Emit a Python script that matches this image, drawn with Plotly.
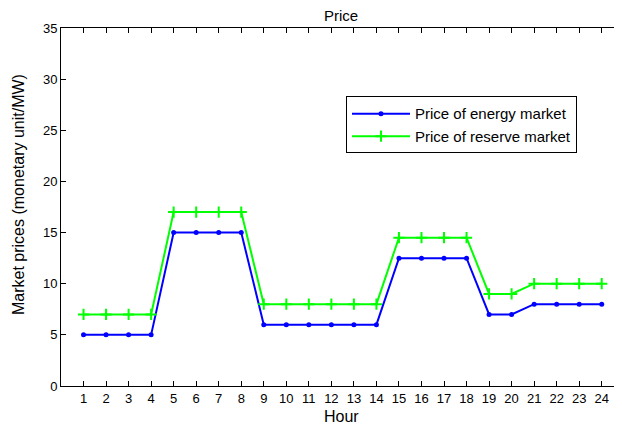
import plotly.graph_objects as go

hours = list(range(1, 25))
energy_price = [5, 5, 5, 5, 15, 15, 15, 15, 6, 6, 6, 6, 6, 6,
                12.5, 12.5, 12.5, 12.5, 7, 7, 8, 8, 8, 8]
reserve_price = [7, 7, 7, 7, 17, 17, 17, 17, 8, 8, 8, 8, 8, 8,
                 14.5, 14.5, 14.5, 14.5, 9, 9, 10, 10, 10, 10]
y_ticks = [0, 5, 10, 15, 20, 25, 30, 35]

FONT = "Liberation Sans, Arial, Helvetica, sans-serif"

# page body has an 8px margin, so the figure is sized to fill the rest
W, H = 614, 417
ML, MT, MB = 53, 20, 39
PW, PH = W - ML, H - MT - MB

fig = go.Figure()
fig.add_trace(go.Scatter(
    x=hours, y=energy_price, mode="lines+markers",
    name="Price of energy market",
    line=dict(color="#0000FF", width=2),
    marker=dict(symbol="circle", size=5, color="#0000FF"),
))
fig.add_trace(go.Scatter(
    x=hours, y=reserve_price, mode="lines+markers",
    name="Price of reserve market",
    line=dict(color="#00FF00", width=2),
    marker=dict(symbol="cross-thin-open", size=8,
                line=dict(color="#00FF00", width=2)),
))

axis_common = dict(
    showline=True, linecolor="black", linewidth=1, mirror="ticks",
    ticks="inside", ticklen=5, tickcolor="black", tickwidth=1,
    showgrid=False, zeroline=False, automargin=False,
    tickfont=dict(family=FONT, size=13, color="black"),
)

fig.update_layout(
    width=W, height=H,
    margin=dict(l=ML, r=0, t=MT, b=MB),
    paper_bgcolor="white", plot_bgcolor="white",
    font=dict(family=FONT, size=15, color="black"),
    title=dict(text="Price", x=333 / W, xanchor="center",
               y=1 - 13 / H, yanchor="bottom", yref="container",
               font=dict(family=FONT, size=15, color="black")),
    xaxis=dict(range=[0, 24.9], tickmode="array", tickvals=hours,
               **axis_common),
    yaxis=dict(range=[0, 35], tickmode="array", tickvals=y_ticks,
               **axis_common),
    legend=dict(x=0.508, y=0.809, xanchor="left", yanchor="top",
                bordercolor="black", borderwidth=1, bgcolor="white",
                font=dict(family=FONT, size=15),
                tracegroupgap=0, itemwidth=58),
    showlegend=True,
)

fig.add_annotation(text="Hour", xref="paper", yref="paper",
                   x=0.5, y=-30 / PH, xanchor="center",
                   yanchor="middle", showarrow=False,
                   font=dict(family=FONT, size=16, color="black"))
fig.add_annotation(text="Market prices (monetary unit/MW)",
                   xref="paper", yref="paper", textangle=-90,
                   x=-42 / PW, y=1 - 167 / PH, xanchor="center",
                   yanchor="middle", showarrow=False,
                   font=dict(family=FONT, size=16, color="black"))

fig.write_html("out.html")
